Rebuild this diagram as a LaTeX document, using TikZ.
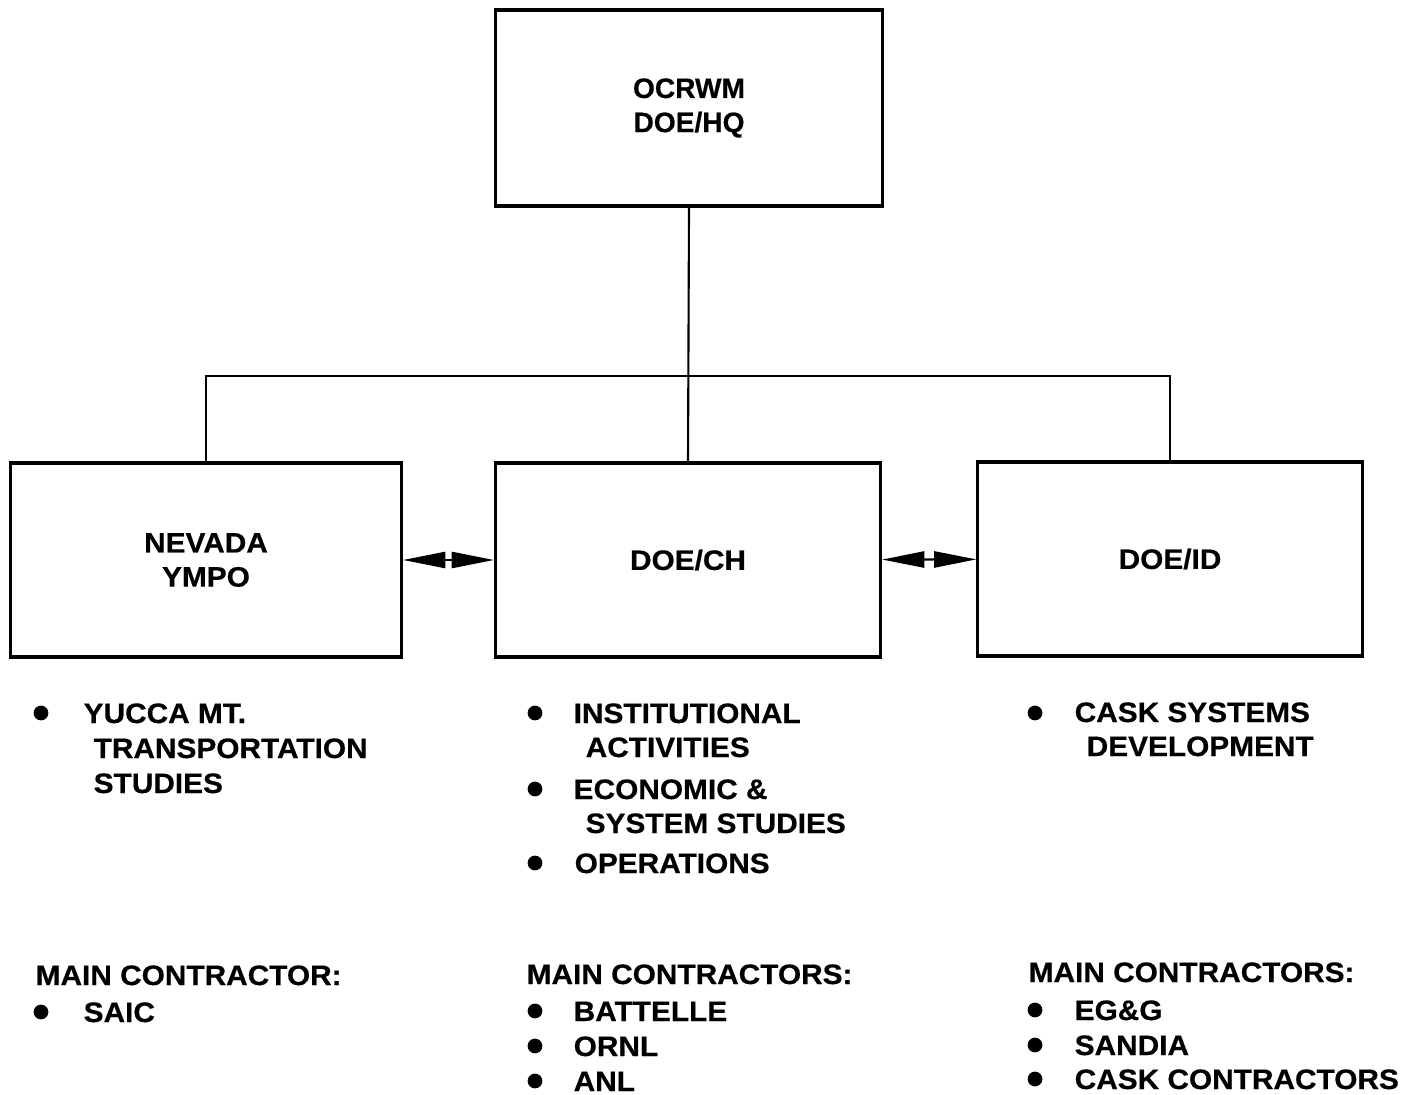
\documentclass[tikz,border=0pt]{standalone}
\usepackage{fontspec}
\setmainfont{Liberation Sans}[FakeStretch=1.06,BoldFeatures={FakeBold=0.5}]
\newfontfamily\hqfont{Liberation Sans}[BoldFeatures={FakeBold=0.5}]
\usetikzlibrary{arrows.meta,positioning}

\begin{document}
\begin{tikzpicture}[x=0.01cm,y=-0.01cm,>={Triangle[length=12pt,width=4.6pt]},
    every node/.style={font=\fontsize{8}{9.7}\selectfont\bfseries},
    unit/.style={draw,line width=0.9pt,align=center,inner sep=0pt},
    txt/.style={anchor=base west,inner sep=0pt},
    bul/.style={circle,fill,inner sep=0pt,minimum size=4.2pt}]

    \useasboundingbox (0,0) rectangle (1401,1095);

    % offices
    \node[unit,minimum width=3.86cm,minimum height=1.96cm,
          font=\hqfont\fontsize{8}{9.7}\selectfont\bfseries] (hq) at (689,108) {OCRWM\\DOE/HQ};
    \node[unit,minimum width=3.91cm,minimum height=1.94cm] (nv) at (206,560) {NEVADA\\YMPO};
    \node[unit,minimum width=3.85cm,minimum height=1.94cm] (ch) at (688,560) {DOE/CH};
    \node[unit,minimum width=3.84cm,minimum height=1.94cm] (id) at (1170,559) {DOE/ID};

    \coordinate (bus) at (689,376);

    \draw[line width=0.6pt] (hq.south) -- (ch.north);
    \draw[line width=0.6pt] (nv.north) -- (nv.north |- bus) -| (id.north);

    \draw[<->,line width=0.6pt] (nv) -- (ch);
    \draw[<->,line width=0.6pt] (ch) -- (id);

    % Nevada tasks
    \node[bul] (nvb1) at (41,713) {};
    \node[txt] (nvt1) at (83,723) {YUCCA MT.};
    \node[txt] (nvt1a) at (93,758) {TRANSPORTATION};
    \node[txt] (nvt1b) at (93,793) {STUDIES};
    \node[txt] (nvm) at (35,985) {MAIN CONTRACTOR:};
    \node[bul] (nvb2) at (41,1012) {};
    \node[txt] (nvc1) at (83,1022) {SAIC};

    % Chicago tasks
    \node[bul] (chb1) at (535,713) {};
    \node[txt] (cht1) at (573,723) {INSTITUTIONAL};
    \node[txt] (cht1a) at (585,757) {ACTIVITIES};
    \node[bul] (chb2) at (535,789) {};
    \node[txt] (cht2) at (573,799) {ECONOMIC \&};
    \node[txt] (cht2a) at (585,833) {SYSTEM STUDIES};
    \node[bul] (chb3) at (535,863) {};
    \node[txt] (cht3) at (574,873) {OPERATIONS};
    \node[txt] (chm) at (526,984) {MAIN CONTRACTORS:};
    \node[bul] (chb4) at (535,1011) {};
    \node[txt] (chc1) at (573,1021) {BATTELLE};
    \node[bul] (chb5) at (535,1046) {};
    \node[txt] (chc2) at (573,1056) {ORNL};
    \node[bul] (chb6) at (535,1081) {};
    \node[txt] (chc3) at (573,1091) {ANL};

    % Idaho tasks
    \node[bul] (idb1) at (1035,713) {};
    \node[txt] (idt1) at (1074,722) {CASK SYSTEMS};
    \node[txt] (idt1a) at (1086,756) {DEVELOPMENT};
    \node[txt] (idm) at (1028,982) {MAIN CONTRACTORS:};
    \node[bul] (idb2) at (1035,1010) {};
    \node[txt] (idc1) at (1074,1020) {EG\&G};
    \node[bul] (idb3) at (1035,1045) {};
    \node[txt] (idc2) at (1074,1055) {SANDIA};
    \node[bul] (idb4) at (1035,1079) {};
    \node[txt] (idc3) at (1074,1089) {CASK CONTRACTORS};

\end{tikzpicture}
\end{document}
